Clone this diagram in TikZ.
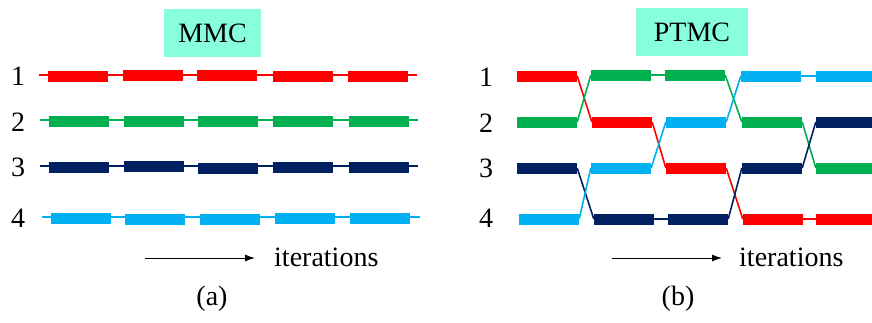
\documentclass[tikz,border=0pt]{standalone}
\usepackage{fontspec}
\setmainfont{Liberation Serif}
\usetikzlibrary{arrows.meta}
\definecolor{cr}{RGB}{255,0,0}
\definecolor{cg}{RGB}{0,176,80}
\definecolor{cn}{RGB}{0,32,96}
\definecolor{cc}{RGB}{0,176,240}
\definecolor{cbox}{RGB}{136,255,220}
\tikzset{
  bar/.style={rectangle, inner sep=0pt, minimum width=60pt, minimum height=11pt, draw=none},
  link/.style={line width=1.6pt},
  lbl/.style={inner sep=0pt, font=\fontsize{28}{30}\selectfont},
  title/.style={fill=cbox, minimum width=97pt, minimum height=48pt, inner sep=0pt, font=\fontsize{28}{30}\selectfont},
  itarrow/.style={line width=1pt,-{Latex[length=10pt,width=7pt]}},
}
\begin{document}
\begin{tikzpicture}[x=1pt,y=-1pt]
\useasboundingbox (0,0) rectangle (872,322);
% titles
\node[title] (mmc) at (212.5,33) {MMC};
\node[title, minimum width=112pt] (ptmc) at (692,32) {PTMC};
% row labels left
\node[lbl] (la1) at (18,76) {1};
\node[lbl] (la2) at (18,122) {2};
\node[lbl] (la3) at (18,167) {3};
\node[lbl] (la4) at (18,218) {4};
% row labels right
\node[lbl] (lb1) at (486,77) {1};
\node[lbl] (lb2) at (486,123) {2};
\node[lbl] (lb3) at (486,168) {3};
\node[lbl] (lb4) at (486,218) {4};
% left lines
\coordinate (s1) at (39,75);  \coordinate (e1) at (417,75);
\coordinate (s2) at (40,120); \coordinate (e2) at (418,120);
\coordinate (s3) at (40,166); \coordinate (e3) at (418,166);
\coordinate (s4) at (42,217); \coordinate (e4) at (420,217);
\draw[link,cr] (s1) -- (e1);
\draw[link,cg] (s2) -- (e2);
\draw[link,cn] (s3) -- (e3);
\draw[link,cc] (s4) -- (e4);
% left bars
\node[bar,fill=cr] (a11) at (78,76) {};
\node[bar,fill=cr] (a12) at (153,75) {};
\node[bar,fill=cr] (a13) at (227,75) {};
\node[bar,fill=cr] (a14) at (303,76) {};
\node[bar,fill=cr] (a15) at (378,76) {};
\node[bar,fill=cg] (a21) at (79,121) {};
\node[bar,fill=cg] (a22) at (154,121) {};
\node[bar,fill=cg] (a23) at (228,121) {};
\node[bar,fill=cg] (a24) at (303,121) {};
\node[bar,fill=cg] (a25) at (379,121) {};
\node[bar,fill=cn] (a31) at (79,167) {};
\node[bar,fill=cn] (a32) at (154,166) {};
\node[bar,fill=cn] (a33) at (228,168) {};
\node[bar,fill=cn] (a34) at (303,167) {};
\node[bar,fill=cn] (a35) at (379,167) {};
\node[bar,fill=cc] (a41) at (81,218) {};
\node[bar,fill=cc] (a42) at (155,219) {};
\node[bar,fill=cc] (a43) at (230,219) {};
\node[bar,fill=cc] (a44) at (305,218) {};
\node[bar,fill=cc] (a45) at (380,218) {};
% right bars
\node[bar,fill=cr] (b11) at (547,76) {};
\node[bar,fill=cg] (b21) at (547,122) {};
\node[bar,fill=cn] (b31) at (547,168) {};
\node[bar,fill=cc] (b41) at (549,219) {};
\node[bar,fill=cg] (b12) at (621,75) {};
\node[bar,fill=cr] (b22) at (622,122) {};
\node[bar,fill=cc] (b32) at (621,168) {};
\node[bar,fill=cn] (b42) at (624,219) {};
\node[bar,fill=cg] (b13) at (695,75) {};
\node[bar,fill=cc] (b23) at (696,122) {};
\node[bar,fill=cr] (b33) at (696,168) {};
\node[bar,fill=cn] (b43) at (698,219) {};
\node[bar,fill=cc] (b14) at (771,76) {};
\node[bar,fill=cg] (b24) at (772,122) {};
\node[bar,fill=cn] (b34) at (772,168) {};
\node[bar,fill=cr] (b44) at (773,219) {};
\node[bar,fill=cc] (b15) at (846,76) {};
\node[bar,fill=cn] (b25) at (846,122) {};
\node[bar,fill=cg] (b35) at (846,168) {};
\node[bar,fill=cr] (b45) at (846,219) {};
% right connectors
\draw[link,cr] (b11.east) -- (b22.west);
\draw[link,cg] (b21.east) -- (b12.west);
\draw[link,cn] (b31.east) -- (b42.west);
\draw[link,cc] (b41.east) -- (b32.west);
\draw[link,cg] (b12.east) -- (b13.west);
\draw[link,cr] (b22.east) -- (b33.west);
\draw[link,cc] (b32.east) -- (b23.west);
\draw[link,cn] (b42.east) -- (b43.west);
\draw[link,cg] (b13.east) -- (b24.west);
\draw[link,cc] (b23.east) -- (b14.west);
\draw[link,cr] (b33.east) -- (b44.west);
\draw[link,cn] (b43.east) -- (b34.west);
\draw[link,cc] (b14.east) -- (b15.west);
\draw[link,cg] (b24.east) -- (b35.west);
\draw[link,cn] (b34.east) -- (b25.west);
\draw[link,cr] (b44.east) -- (b45.west);
% iteration arrows
\node[lbl, anchor=west] (ita) at (274,257) {iterations};
\node[lbl, anchor=west] (itb) at (739,257) {iterations};
\coordinate (asa) at (145,258);
\coordinate (aea) at (255,258);
\coordinate (asb) at (612,258);
\coordinate (aeb) at (722,258);
\draw[itarrow] (asa) -- (aea);
\draw[itarrow] (asb) -- (aeb);
% captions
\node[lbl] (capa) at (212,299) {(a)};
\node[lbl] (capb) at (678,299) {(b)};
\end{tikzpicture}
\end{document}
